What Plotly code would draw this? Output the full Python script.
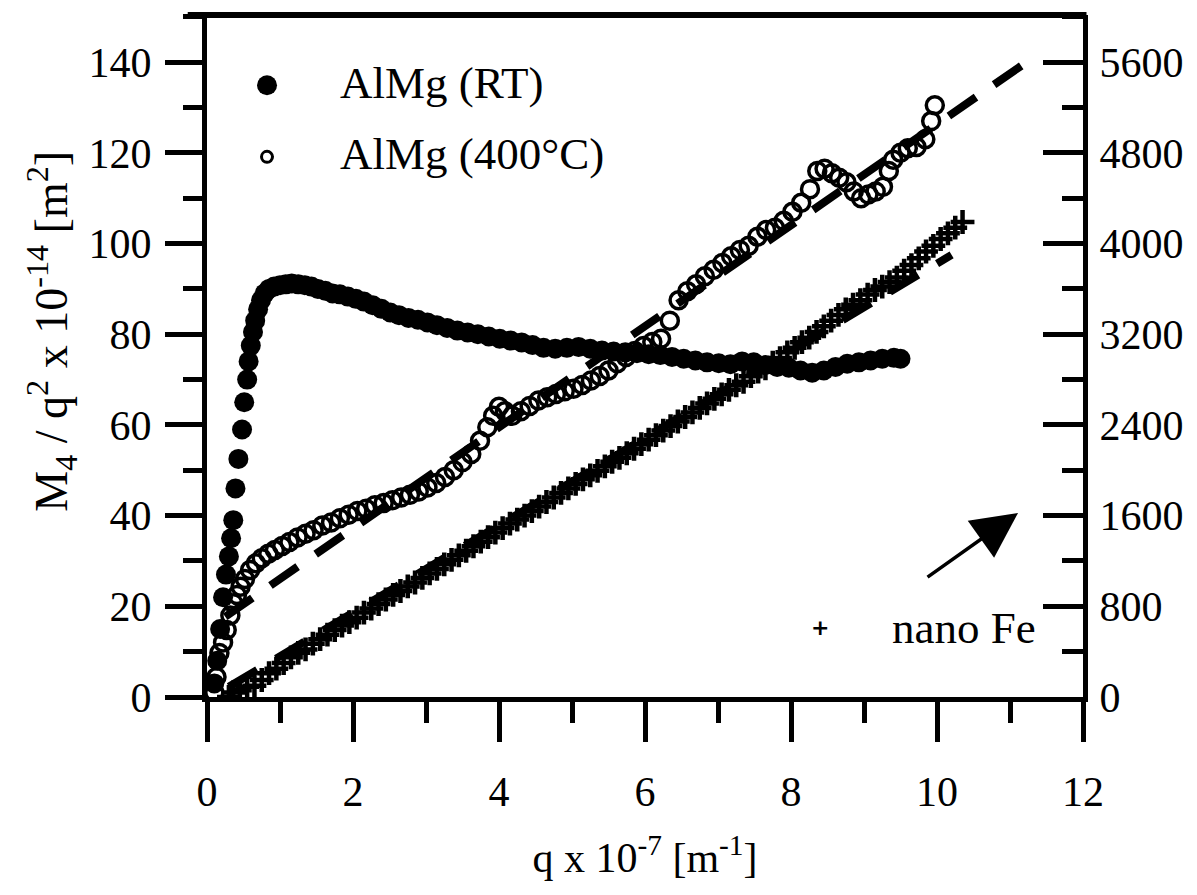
import plotly.graph_objects as go

# ---- data ----
rt_q = [0.10, 0.14, 0.18, 0.22, 0.26, 0.30, 0.33, 0.36, 0.39, 0.43, 0.48, 0.51, 0.55, 0.57, 0.60,
        0.63, 0.66, 0.70, 0.74, 0.79, 0.85, 0.92, 1.00, 1.08, 1.16, 1.25, 1.34, 1.43, 1.52, 1.62,
        1.72, 1.82, 1.93, 2.04, 2.15, 2.27, 2.39, 2.51, 2.63, 2.76, 2.89, 3.02, 3.15, 3.29, 3.43,
        3.57, 3.71, 3.86, 4.01, 4.16, 4.31, 4.46, 4.61, 4.77, 4.93, 5.09, 5.25, 5.41, 5.57, 5.73,
        5.89, 6.05, 6.21, 6.37, 6.53, 6.69, 6.85, 7.01, 7.17, 7.33, 7.49, 7.65, 7.81, 7.97, 8.13,
        8.29, 8.45, 8.61, 8.77, 8.93, 9.09, 9.25, 9.41, 9.50]
rt_M = [3, 8, 15, 22, 27, 31, 35, 39, 46, 52.5, 59, 65, 70, 74, 77.5,
        80.5, 83, 85.5, 87.5, 89, 90, 90.5, 90.8, 91, 91.2, 91, 90.8, 90.5, 90, 89.6,
        89, 88.8, 88.3, 87.8, 87.2, 86.4, 85.6, 84.8, 84.2, 83.6, 83.2, 82.6, 82, 81.4, 80.8,
        80.4, 80, 79.5, 79, 78.6, 78.2, 77.6, 77, 76.8, 77, 77.2, 76.8, 76.4, 76.2, 76,
        75.8, 75.6, 75.4, 75, 74.6, 74.2, 73.8, 73.6, 73.4, 74, 73.8, 73.2, 72.8, 72.6, 72,
        71.5, 72, 72.8, 73.5, 73.8, 74.2, 74.6, 74.8, 74.6]

ht_q = [0.10, 0.13, 0.17, 0.22, 0.27, 0.32, 0.36, 0.41, 0.46, 0.52, 0.59, 0.67, 0.75, 0.84, 0.93,
        1.03, 1.13, 1.24, 1.35, 1.46, 1.58, 1.70, 1.82, 1.94, 2.06, 2.18, 2.30, 2.42, 2.54, 2.66,
        2.78, 2.90, 3.02, 3.14, 3.26, 3.38, 3.50, 3.62, 3.74, 3.84, 3.92, 4.00, 4.08, 4.18, 4.30,
        4.42, 4.54, 4.66, 4.78, 4.90, 5.02, 5.14, 5.26, 5.38, 5.50, 5.62, 5.74, 5.86, 5.98, 6.10,
        6.22, 6.34, 6.46, 6.58, 6.70, 6.82, 6.94, 7.06, 7.18, 7.30, 7.42, 7.54, 7.66, 7.78, 7.90,
        8.02, 8.14, 8.26, 8.36, 8.46, 8.56, 8.66, 8.76, 8.86, 8.96, 9.06, 9.16, 9.26, 9.34, 9.40,
        9.50, 9.60, 9.72, 9.84, 9.92, 9.97]
ht_M = [1, 4.4, 9.7, 12, 14.8, 18, 20.7, 22.5, 24.3, 26, 28, 29.5, 30.6, 31.6, 32.4,
        33.3, 34.2, 35.2, 36, 36.8, 37.8, 38.5, 39.4, 40.2, 41, 41.5, 42.3, 42.8, 43.4, 44,
        44.6, 45.3, 46.2, 47.2, 48.5, 50, 51.8, 53.6, 56.5, 59.5, 62, 64, 63, 62, 63,
        64.2, 65.4, 66.1, 66.8, 67.4, 68, 68.8, 69.8, 70.8, 72, 73.6, 75, 76.3, 77.4, 78.3,
        79, 83, 87.5, 89.5, 91, 92.8, 94.2, 95.7, 97.2, 98.6, 99.5, 101.5, 103, 103.5, 105,
        107, 109, 112, 116, 116.5, 115.5, 114.5, 113.5, 111.5, 110, 110.8, 111.5, 112.5, 116, 118.5,
        120, 121, 121.3, 123, 127, 130.5]

fe_q = [0.30, 0.36, 0.45, 0.55, 0.65, 0.75, 0.85, 0.95, 1.05, 1.15, 1.25, 1.35, 1.45, 1.55, 1.65,
        1.75, 1.85, 1.95, 2.05, 2.15, 2.25, 2.35, 2.45, 2.55, 2.65, 2.75, 2.85, 2.95, 3.05, 3.15,
        3.25, 3.35, 3.45, 3.55, 3.65, 3.75, 3.85, 3.95, 4.05, 4.15, 4.25, 4.35, 4.45, 4.55, 4.65,
        4.75, 4.85, 4.95, 5.05, 5.15, 5.25, 5.35, 5.45, 5.55, 5.65, 5.75, 5.85, 5.95, 6.05, 6.15,
        6.25, 6.35, 6.45, 6.55, 6.65, 6.75, 6.85, 6.95, 7.05, 7.15, 7.25, 7.35, 7.45, 7.55, 7.65,
        7.75, 7.85, 7.95, 8.05, 8.15, 8.25, 8.35, 8.45, 8.55, 8.65, 8.75, 8.85, 8.95, 9.05, 9.15,
        9.25, 9.35, 9.45, 9.55, 9.65, 9.75, 9.85, 9.95, 10.05, 10.15, 10.25, 10.35]
fe_M = [0, 40, 60, 90, 100, 150, 210, 250, 300, 350, 390, 420, 470, 510, 550,
        590, 630, 660, 700, 745, 780, 820, 860, 900, 935, 975, 1010, 1050, 1090, 1130,
        1170, 1210, 1250, 1290, 1330, 1370, 1410, 1450, 1490, 1530, 1565, 1600, 1640, 1680, 1720,
        1760, 1800, 1840, 1880, 1920, 1955, 1995, 2035, 2075, 2110, 2150, 2190, 2230, 2270, 2310,
        2350, 2390, 2430, 2470, 2510, 2550, 2590, 2630, 2670, 2710, 2750, 2780, 2830, 2870, 2900,
        2950, 2990, 3040, 3080, 3130, 3170, 3220, 3270, 3320, 3370, 3420, 3460, 3500, 3550, 3590,
        3620, 3660, 3700, 3760, 3810, 3870, 3930, 3980, 4040, 4090, 4140, 4190]

# fitted (dashed) lines
fit_ht_q = [0.25, 11.2]
fit_ht_M = [17.7, 139.7]
fit_fe_q = [0.30, 10.2]
fit_fe_M = [90, 3900]

x_ticks = [0, 2, 4, 6, 8, 10, 12]
y_ticks = [0, 20, 40, 60, 80, 100, 120, 140]
y2_ticks = [0, 800, 1600, 2400, 3200, 4000, 4800, 5600]

FONT = "Liberation Serif"
BLACK = "black"

fig = go.Figure()

fig.add_trace(go.Scatter(x=fit_fe_q, y=fit_fe_M, mode="lines", yaxis="y2",
                         line=dict(color=BLACK, width=8, dash="33px,22px"), showlegend=False))
fig.add_trace(go.Scatter(x=fe_q, y=fe_M, mode="markers", yaxis="y2", name="nano Fe",
                         marker=dict(symbol="cross-thin", size=17, color=BLACK,
                                     line=dict(color=BLACK, width=4.5)), showlegend=False))
fig.add_trace(go.Scatter(x=rt_q, y=rt_M, mode="markers", name="AlMg (RT)",
                         marker=dict(symbol="circle", size=20, color=BLACK), showlegend=False))
fig.add_trace(go.Scatter(x=ht_q, y=ht_M, mode="markers", name="AlMg (400°C)",
                         marker=dict(symbol="circle-open", size=17, color=BLACK,
                                     line=dict(color=BLACK, width=3.5)), showlegend=False))
fig.add_trace(go.Scatter(x=fit_ht_q, y=fit_ht_M, mode="lines",
                         line=dict(color=BLACK, width=8, dash="33px,22px"), showlegend=False))

axis_common = dict(showline=True, linecolor=BLACK, linewidth=5, showgrid=False, zeroline=False,
                   tickcolor=BLACK, tickwidth=5, tickfont=dict(family=FONT, size=42, color=BLACK))

fig.update_layout(
    width=1197, height=895,
    margin=dict(l=207, r=114, t=15, b=198),
    paper_bgcolor="white", plot_bgcolor="white",
    showlegend=False,
    font=dict(family=FONT, color=BLACK),
    xaxis=dict(range=[0, 12], tickvals=x_ticks, ticks="outside", ticklen=40,
               ticklabelstandoff=14,
               minor=dict(dtick=1, ticks="outside", ticklen=21, tickwidth=5, tickcolor=BLACK),
               title=dict(text="q x 10<sup>-7</sup> [m<sup>-1</sup>]", standoff=30,
                          font=dict(family=FONT, size=42, color=BLACK)),
               automargin=False, **axis_common),
    yaxis=dict(range=[0, 150.4], tickvals=y_ticks, ticks="outside", ticklen=37,
               ticklabelstandoff=5,
               minor=dict(dtick=10, ticks="outside", ticklen=19, tickwidth=5, tickcolor=BLACK),
               automargin=False, **axis_common),
    yaxis2=dict(range=[0, 6016], tickvals=y2_ticks, overlaying="y", side="right",
                ticks="inside", ticklen=40, ticklabelstandoff=3,
                minor=dict(dtick=400, ticks="inside", ticklen=21, tickwidth=5, tickcolor=BLACK),
                automargin=False, **axis_common),
)

# y-axis title as rotated text
fig.add_annotation(x=-0.177, y=0.537, xref="paper", yref="paper", xanchor="center", yanchor="middle",
                   textangle=-90, showarrow=False,
                   text="M<sub>4</sub> / q<sup>2</sup> x 10<sup>-14</sup> [m<sup>2</sup>]",
                   font=dict(family=FONT, size=46, color=BLACK))

# top frame line
fig.add_shape(type="line", xref="paper", yref="paper", x0=-0.022, x1=1.004, y0=1, y1=1,
              line=dict(color=BLACK, width=6))

# legend symbols
fig.add_shape(type="circle", xref="paper", yref="paper", xsizemode="pixel", ysizemode="pixel",
              xanchor=0.0685, yanchor=0.897, x0=-10, x1=10, y0=-10, y1=10,
              fillcolor=BLACK, line=dict(color=BLACK, width=0))
fig.add_shape(type="circle", xref="paper", yref="paper", xsizemode="pixel", ysizemode="pixel",
              xanchor=0.0685, yanchor=0.792, x0=-5.5, x1=5.5, y0=-5.5, y1=5.5,
              fillcolor="white", line=dict(color=BLACK, width=3))
fig.add_annotation(x=0.150, y=0.900, xref="paper", yref="paper", xanchor="left", yanchor="middle",
                   text="AlMg (RT)", showarrow=False, font=dict(family=FONT, size=45, color=BLACK))
fig.add_annotation(x=0.150, y=0.796, xref="paper", yref="paper", xanchor="left", yanchor="middle",
                   text="AlMg (400°C)", showarrow=False, font=dict(family=FONT, size=45, color=BLACK))
fig.add_annotation(x=0.700, y=0.102, xref="paper", yref="paper", xanchor="center", yanchor="middle",
                   text="<b>+</b>", showarrow=False, font=dict(family="DejaVu Sans", size=22, color=BLACK))
fig.add_annotation(x=0.7797, y=0.101, xref="paper", yref="paper", xanchor="left", yanchor="middle",
                   text="nano Fe", showarrow=False, font=dict(family=FONT, size=45, color=BLACK))

# arrow pointing to the right axis
fig.add_annotation(x=11.11, y=40.6, ax=9.85, ay=26.2, xref="x", yref="y", axref="x", ayref="y",
                   text="", showarrow=True, arrowhead=2, arrowsize=2.6, arrowwidth=3.5,
                   arrowcolor=BLACK)

fig.write_html("out.html")
